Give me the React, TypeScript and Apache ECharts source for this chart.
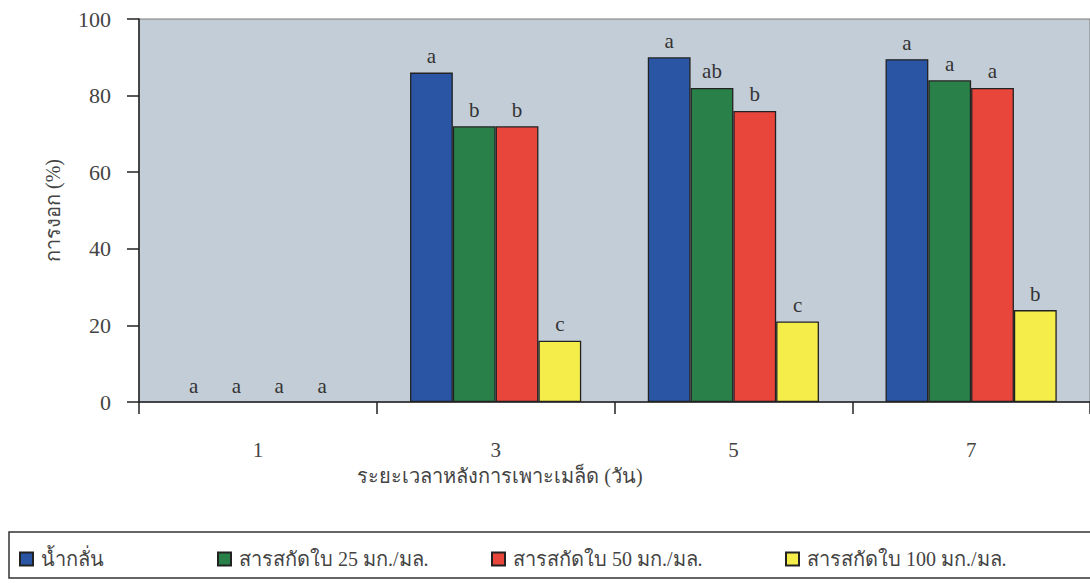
import React, { useEffect, useRef } from "react";
import * as echarts from "echarts";

const categories = ["1", "3", "5", "7"];
const seriesNames = [
  "น้ำกลั่น",
  "สารสกัดใบ 25 มก./มล.",
  "สารสกัดใบ 50 มก./มล.",
  "สารสกัดใบ 100 มก./มล.",
];
const waterValues = [0, 86, 90, 89.5];
const ext25Values = [0, 72, 82, 84];
const ext50Values = [0, 72, 76, 82];
const ext100Values = [0, 16, 21, 24];
const waterLetters = ["a", "a", "a", "a"];
const ext25Letters = ["a", "b", "ab", "a"];
const ext50Letters = ["a", "b", "b", "a"];
const ext100Letters = ["a", "c", "c", "b"];
const yTicks = [0, 20, 40, 60, 80, 100];

const colors = ["#2a55a4", "#2a8049", "#e8453b", "#f5ee4a"];
const serif = "'Liberation Serif', 'Times New Roman', serif";

export default function App() {
  const ref = useRef<HTMLDivElement>(null);
  useEffect(() => {
    document.body.style.margin = "0";
    const chart = echarts.init(ref.current!, null, { renderer: "svg" });
    const values = [waterValues, ext25Values, ext50Values, ext100Values];
    const letters = [waterLetters, ext25Letters, ext50Letters, ext100Letters];
    const legendLeft = [14, 212, 486, 780];
    chart.setOption({
      animation: false,
      backgroundColor: "#ffffff",
      textStyle: { fontFamily: serif },
      grid: {
        left: 139,
        top: 19,
        width: 958,
        height: 383,
        show: true,
        backgroundColor: "#c3cdd7",
        borderColor: "#7a7a7a",
        borderWidth: 1,
      },
      legend: seriesNames.map((n, i) => ({
        data: [n],
        left: legendLeft[i],
        top: 544,
        icon: "rect",
        itemWidth: 13,
        itemHeight: 13,
        itemGap: 6,
        textStyle: { fontFamily: serif, fontSize: 20, color: "#444", padding: [0, 0, 0, 3] },
        selectedMode: false,
      })),
      xAxis: {
        type: "category",
        data: categories,
        boundaryGap: true,
        axisLine: { lineStyle: { color: "#222", width: 1.5 } },
        axisTick: { show: true, length: 12, interval: 0, lineStyle: { color: "#222", width: 1.5 } },
        axisLabel: { fontFamily: serif, fontSize: 21, color: "#444", margin: 37 },
        splitLine: { show: false },
      },
      yAxis: {
        type: "value",
        min: yTicks[0],
        max: yTicks[yTicks.length - 1],
        interval: 20,
        name: "การงอก (%)",
        nameLocation: "middle",
        nameGap: 76,
        nameRotate: 90,
        nameTextStyle: { fontFamily: serif, fontSize: 20, color: "#444" },
        axisLine: { show: true, lineStyle: { color: "#222", width: 1.5 } },
        axisTick: { show: true, length: 12, lineStyle: { color: "#222", width: 1.5 } },
        axisLabel: { fontFamily: serif, fontSize: 22, color: "#444", margin: 28 },
        splitLine: { show: false },
      },
      graphic: [
        {
          type: "rect",
          shape: { x: 9, y: 532, width: 1100, height: 46 },
          style: { fill: "none", stroke: "#333", lineWidth: 1.5 },
          z: 0,
        },
        {
          type: "text",
          x: 500,
          y: 476,
          style: {
            text: "ระยะเวลาหลังการเพาะเมล็ด (วัน)",
            fontFamily: serif,
            fontSize: 20,
            fill: "#444",
            align: "center",
            verticalAlign: "middle",
          },
        },
      ],
      series: seriesNames.map((n, i) => ({
        name: n,
        type: "bar",
        data: values[i].map((v) =>
          v === 0 ? { value: v, itemStyle: { borderWidth: 0 } } : v
        ),
        barGap: "0%",
        barCategoryGap: "28%",
        itemStyle: { color: colors[i], borderColor: "#222", borderWidth: 1.3 },
        label: {
          show: true,
          position: "top",
          distance: 6,
          fontFamily: serif,
          fontSize: 21,
          color: "#333",
          formatter: (p: any) => letters[i][p.dataIndex],
        },
      })),
    });
    return () => chart.dispose();
  }, []);
  return <div ref={ref} style={{ width: 1090, height: 583 }} />;
}
